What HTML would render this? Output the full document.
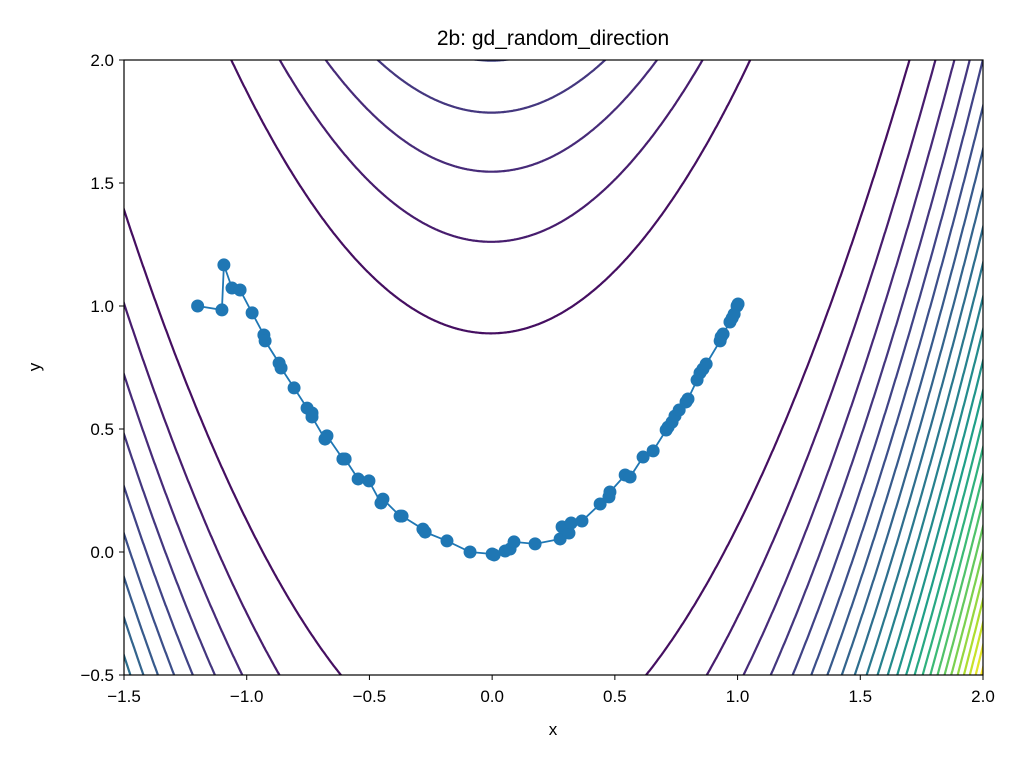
<!DOCTYPE html>
<html><head><meta charset="utf-8"><style>
html,body{margin:0;padding:0;background:#fff;width:1024px;height:768px;overflow:hidden;}
svg{display:block;font-family:"Liberation Sans","DejaVu Sans",sans-serif;}
</style></head><body>
<svg id="chart" width="1024" height="768" viewBox="0 0 1024 768">
<defs><clipPath id="clip"><rect x="124" y="60" width="859" height="615"/></clipPath></defs>
<rect width="1024" height="768" fill="#fff"/>
<g id="contours" clip-path="url(#clip)"></g>
<g id="path" clip-path="url(#clip)"></g>
<rect x="124" y="60" width="859" height="615" fill="none" stroke="#000" stroke-width="1.2"/>
<g id="axes"></g>
<text x="553" y="45" text-anchor="middle" font-size="21">2b: gd_random_direction</text>
<text x="553" y="735" text-anchor="middle" font-size="17">x</text>
<text x="40" y="367" text-anchor="middle" font-size="17" transform="rotate(-90 40 367)">y</text>
</svg>
<script>
const xTicks=[-1.5,-1.0,-0.5,0.0,0.5,1.0,1.5,2.0];
const yTicks=[-0.5,0.0,0.5,1.0,1.5,2.0];
const levels=[];for(let c=80;c<=2000;c+=80)levels.push(c);
const pathX=[-1.2,-1.101,-1.093,-1.060,-1.027,-0.978,-0.930,-0.925,-0.868,-0.860,-0.807,-0.754,-0.734,-0.734,-0.681,-0.673,-0.608,-0.599,-0.546,-0.502,-0.453,-0.445,-0.375,-0.367,-0.282,-0.273,-0.184,-0.090,0.0,0.008,0.053,0.073,0.089,0.175,0.277,0.285,0.313,0.322,0.366,0.440,0.476,0.480,0.542,0.562,0.615,0.656,0.709,0.717,0.733,0.745,0.762,0.790,0.798,0.835,0.847,0.859,0.872,0.929,0.933,0.941,0.969,0.978,0.986,0.998,1.002];
const pathY=[1.0,0.984,1.167,1.073,1.065,0.972,0.882,0.858,0.768,0.748,0.667,0.585,0.565,0.549,0.459,0.472,0.378,0.378,0.297,0.289,0.199,0.215,0.146,0.146,0.093,0.081,0.045,0.0,-0.008,-0.012,0.004,0.012,0.041,0.033,0.053,0.102,0.077,0.118,0.126,0.195,0.224,0.244,0.313,0.305,0.386,0.411,0.496,0.508,0.528,0.553,0.577,0.610,0.622,0.699,0.728,0.744,0.764,0.858,0.874,0.886,0.935,0.951,0.967,1.0,1.008];
const NS="http://www.w3.org/2000/svg";
const X=v=>124+(v+1.5)*859/3.5, Y=v=>675-(v+0.5)*615/2.5;
const vir=[[68,1,84],[72,40,120],[62,74,137],[49,104,142],[38,130,142],[31,158,137],[53,183,121],[109,205,89],[180,222,44],[253,231,37]];
function cmap(t){t=Math.max(0,Math.min(1,t))*(vir.length-1);const i=Math.min(Math.floor(t),vir.length-2),f=t-i;const c=vir[i].map((a,k)=>Math.round(a+(vir[i+1][k]-a)*f));return `rgb(${c})`;}
const cg=document.getElementById('contours');
levels.forEach(c=>{
  const up=[],dn=[];
  const lo=1-Math.sqrt(c),hi=1+Math.sqrt(c);
  const a=Math.max(lo,-1.6),b=Math.min(hi,2.1);
  const N=1500;
  for(let i=0;i<=N;i++){const x=a+(b-a)*i/N;const r=c-(1-x)*(1-x);if(r<0)continue;const s=Math.sqrt(r/100);up.push([X(x),Y(x*x+s)]);dn.push([X(x),Y(x*x-s)]);}
  const pts=up.concat(dn.reverse());
  const p=document.createElementNS(NS,'polyline');
  p.setAttribute('points',pts.map(q=>q[0].toFixed(1)+','+q[1].toFixed(1)).join(' '));
  p.setAttribute('fill','none');p.setAttribute('stroke',cmap(c/2000));p.setAttribute('stroke-width','2.2');
  
  
  cg.appendChild(p);
});
const pg=document.getElementById('path');
const line=document.createElementNS(NS,'polyline');
line.setAttribute('points',pathX.map((x,i)=>X(x).toFixed(1)+','+Y(pathY[i]).toFixed(1)).join(' '));
line.setAttribute('fill','none');line.setAttribute('stroke','#1f77b4');line.setAttribute('stroke-width','1.8');


pg.appendChild(line);
pathX.forEach((x,i)=>{const m=document.createElementNS(NS,'circle');m.setAttribute('cx',X(x));m.setAttribute('cy',Y(pathY[i]));m.setAttribute('r','6.5');m.setAttribute('fill','#1f77b4');


pg.appendChild(m);});
const ag=document.getElementById('axes');
const fmt=v=>(v<0?'\u2212':'')+Math.abs(v).toFixed(1);
xTicks.forEach(v=>{const l=document.createElementNS(NS,'line');l.setAttribute('x1',X(v));l.setAttribute('x2',X(v));l.setAttribute('y1',675);l.setAttribute('y2',680);l.setAttribute('stroke','#000');


ag.appendChild(l);const t=document.createElementNS(NS,'text');t.setAttribute('x',X(v));t.setAttribute('y',702);t.setAttribute('text-anchor','middle');t.setAttribute('font-size','17');t.textContent=fmt(v);


ag.appendChild(t);});
yTicks.forEach(v=>{const l=document.createElementNS(NS,'line');l.setAttribute('x1',119);l.setAttribute('x2',124);l.setAttribute('y1',Y(v));l.setAttribute('y2',Y(v));l.setAttribute('stroke','#000');


ag.appendChild(l);const t=document.createElementNS(NS,'text');t.setAttribute('x',114);t.setAttribute('y',Y(v)+6);t.setAttribute('text-anchor','end');t.setAttribute('font-size','17');t.textContent=fmt(v);


ag.appendChild(t);});
</script>
</body></html>
